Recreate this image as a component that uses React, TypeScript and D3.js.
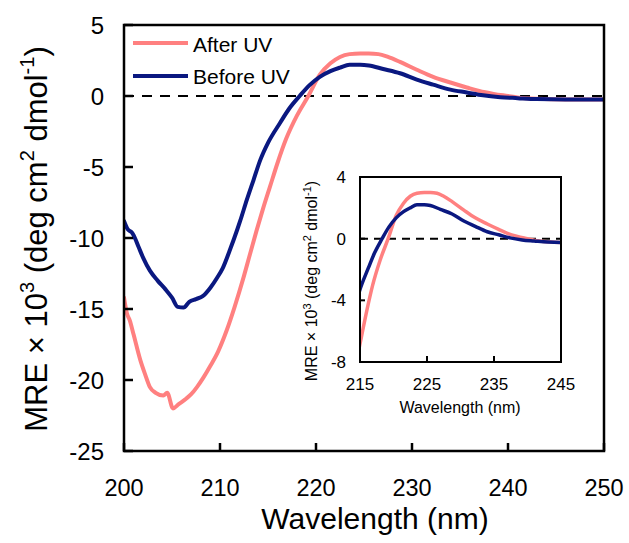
import React from "react";
import * as d3 from "d3";

// ---- data ----
const seriesNames = ["After UV", "Before UV"];
const seriesColors = ["#FF8080", "#0A1880"];

const wlBefore = [200.0, 200.4, 200.8, 201.0, 201.5, 202.0, 202.7, 203.5, 204.3, 205.0, 205.6, 206.2, 206.8, 207.5, 208.2, 209.0, 209.7, 210.3, 211.0, 211.8, 212.1, 212.8, 213.5, 214.2, 215.0, 216.25, 217.2, 218.3, 219.3, 220.4, 221.5, 222.5, 223.5, 224.6, 225.5, 227.0, 228.75, 230.5, 232.2, 234.0, 235.7, 237.4, 239.2, 241.0, 243.0, 246.0, 250.0];
const mreBefore = [-8.8, -9.4, -9.6, -9.8, -10.6, -11.4, -12.3, -13.0, -13.6, -14.2, -14.85, -14.9, -14.5, -14.3, -14.1, -13.5, -12.8, -12.1, -10.9, -9.4, -8.8, -7.3, -5.9, -4.5, -3.3, -1.9, -0.9, 0.0, 0.75, 1.35, 1.75, 2.0, 2.2, 2.2, 2.15, 1.9, 1.6, 1.15, 0.8, 0.45, 0.25, 0.05, -0.08, -0.15, -0.22, -0.25, -0.25];

const wlAfter = [200.0, 200.3, 200.6, 201.0, 201.7, 202.2, 202.7, 203.3, 204.1, 204.5, 205.1, 205.7, 206.5, 207.0, 207.6, 208.3, 209.0, 209.8, 210.7, 211.5, 212.4, 213.1, 213.8, 214.5, 215.2, 216.0, 216.9, 218.0, 219.2, 220.4, 221.5, 222.5, 223.5, 224.6, 225.5, 226.5, 227.5, 228.75, 230.5, 232.2, 234.0, 235.7, 237.0, 238.5, 240.0, 241.0, 243.0, 246.0, 250.0];
const mreAfter = [-14.2, -15.3, -15.8, -16.8, -18.6, -19.6, -20.5, -20.9, -21.1, -20.9, -22.0, -21.7, -21.3, -21.0, -20.5, -19.8, -19.0, -18.0, -16.5, -14.9, -12.9, -11.2, -9.5, -7.9, -6.4, -4.7, -3.0, -1.4, 0.0, 1.5, 2.3, 2.75, 2.95, 3.0, 3.0, 2.95, 2.75, 2.4, 1.85, 1.35, 0.95, 0.6, 0.35, 0.15, 0.0, -0.1, -0.2, -0.25, -0.25];

const xTicks = [200, 210, 220, 230, 240, 250];
const yTicks = [5, 0, -5, -10, -15, -20, -25];
const insetXTicks = [215, 225, 235, 245];
const insetYTicks = [4, 0, -4, -8];

const FONT = "'Liberation Sans', Arial, sans-serif";

type Pt = [number, number];
const before: Pt[] = wlBefore.map((w, i) => [w, mreBefore[i]]);
const after: Pt[] = wlAfter.map((w, i) => [w, mreAfter[i]]);

export default function App() {
  const W = 629, H = 543;
  // main plot
  const x = d3.scaleLinear().domain([200, 250]).range([124, 604]);
  const y = d3.scaleLinear().domain([-25, 5]).range([451, 25]);
  const line = d3.line<Pt>().x(d => x(d[0])).y(d => y(d[1])).curve(d3.curveMonotoneX);

  // inset
  const ix = d3.scaleLinear().domain([215, 245]).range([360, 561]);
  const iy = d3.scaleLinear().domain([-8, 4]).range([362, 177]);
  const iline = d3.line<Pt>().x(d => ix(d[0])).y(d => iy(d[1])).curve(d3.curveMonotoneX);

  return (
    <svg width={W} height={H} style={{ position: "absolute", left: 0, top: 0, background: "#fff" }} fontFamily={FONT}>
      <defs>
        <clipPath id="mainClip"><rect x={124} y={25} width={480} height={426} /></clipPath>
        <clipPath id="insetClip"><rect x={360} y={177} width={201} height={185} /></clipPath>
      </defs>
      <rect x={0} y={0} width={W} height={H} fill="#fff" />

      {/* zero line */}
      <line x1={x(200)} x2={x(250)} y1={y(0)} y2={y(0)} stroke="#000" strokeWidth={2} strokeDasharray="10,8" />

      {/* main curves */}
      <g clipPath="url(#mainClip)" fill="none" strokeLinejoin="round" strokeLinecap="round">
        <path d={line(after) || ""} stroke={seriesColors[0]} strokeWidth={4} />
        <path d={line(before) || ""} stroke={seriesColors[1]} strokeWidth={4} />
      </g>

      {/* main frame */}
      <rect x={124} y={25} width={480} height={426} fill="none" stroke="#000" strokeWidth={2.5} />
      {xTicks.map(t => (
        <g key={"xt" + t}>
          <line x1={x(t)} x2={x(t)} y1={451} y2={443} stroke="#000" strokeWidth={2.5} />
          <text x={x(t)} y={496} fontSize={23.5} textAnchor="middle">{t}</text>
        </g>
      ))}
      {yTicks.map(t => (
        <g key={"yt" + t}>
          <line x1={124} x2={133} y1={y(t)} y2={y(t)} stroke="#000" strokeWidth={2.5} />
          <text x={104} y={y(t) + 8.5} fontSize={24} textAnchor="end">{t}</text>
        </g>
      ))}
      <text x={375} y={529} fontSize={30} textAnchor="middle">Wavelength (nm)</text>
      <text transform="translate(47,239) rotate(-90)" fontSize={31} textAnchor="middle">
        MRE × 10<tspan fontSize={20} dy={-13}>3</tspan>
        <tspan dy={13}> (deg cm</tspan>
        <tspan fontSize={20} dy={-13}>2</tspan>
        <tspan dy={13}> dmol</tspan>
        <tspan fontSize={20} dy={-13}>-1</tspan>
        <tspan dy={13}>)</tspan>
      </text>

      {/* legend */}
      {seriesNames.map((n, i) => (
        <g key={n}>
          <line x1={133} x2={188} y1={43 + i * 33} y2={43 + i * 33} stroke={seriesColors[i]} strokeWidth={4} />
          <text x={193} y={52 + i * 32} fontSize={21}>{n}</text>
        </g>
      ))}

      {/* inset */}
      <rect x={360} y={177} width={201} height={185} fill="#fff" />
      <line x1={ix(215)} x2={ix(245)} y1={iy(0)} y2={iy(0)} stroke="#000" strokeWidth={2} strokeDasharray="8,6" />
      <g clipPath="url(#insetClip)" fill="none" strokeLinejoin="round" strokeLinecap="round">
        <path d={iline(after) || ""} stroke={seriesColors[0]} strokeWidth={3.5} />
        <path d={iline(before) || ""} stroke={seriesColors[1]} strokeWidth={3.5} />
      </g>
      <rect x={360} y={177} width={201} height={185} fill="none" stroke="#000" strokeWidth={2} />
      {insetXTicks.map(t => (
        <g key={"ixt" + t}>
          <line x1={ix(t)} x2={ix(t)} y1={362} y2={356} stroke="#000" strokeWidth={2} />
          <text x={ix(t)} y={390} fontSize={17} textAnchor="middle">{t}</text>
        </g>
      ))}
      {insetYTicks.map(t => (
        <g key={"iyt" + t}>
          <line x1={360} x2={365} y1={iy(t)} y2={iy(t)} stroke="#000" strokeWidth={2} />
          <text x={346} y={iy(t) + 6} fontSize={17} textAnchor="end">{t}</text>
        </g>
      ))}
      <text x={460} y={413} fontSize={16} textAnchor="middle">Wavelength (nm)</text>
      <text transform="translate(317,281) rotate(-90)" fontSize={16} textAnchor="middle">
        MRE × 10<tspan fontSize={11} dy={-6}>3</tspan>
        <tspan dy={6}> (deg cm</tspan>
        <tspan fontSize={11} dy={-6}>2</tspan>
        <tspan dy={6}> dmol</tspan>
        <tspan fontSize={11} dy={-6}>-1</tspan>
        <tspan dy={6}>)</tspan>
      </text>
    </svg>
  );
}
